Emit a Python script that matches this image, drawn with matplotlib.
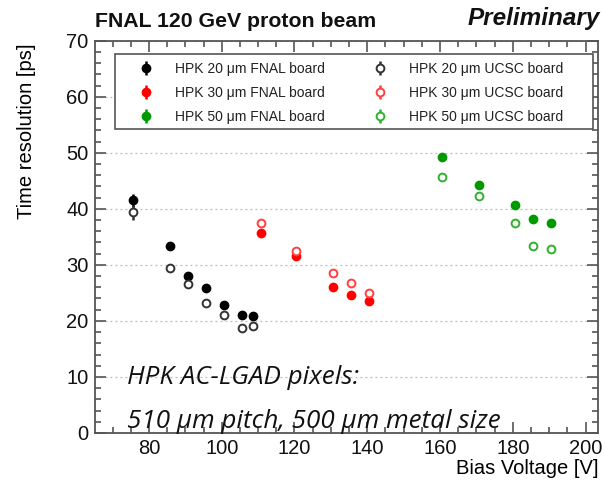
import numpy as np
import matplotlib
matplotlib.use("Agg")
import matplotlib.pyplot as plt
from matplotlib.patches import Rectangle
from matplotlib.ticker import MultipleLocator

plt.rcParams['font.family'] = ['Liberation Sans', 'DejaVu Sans']

# Bias voltage scans (V) and time resolution (ps) per sensor thickness
bias_20 = [75.6, 85.7, 90.7, 95.6, 100.5, 105.7, 108.7]
fnal_20 = [41.5, 33.3, 28.1, 25.9, 22.9, 21.0, 20.9]
fnal_20_err = [1.2, 0.5, 0.3, 0.3, 0.3, 0.3, 0.3]
ucsc_20 = [39.4, 29.5, 26.5, 23.2, 21.0, 18.8, 19.1]
ucsc_20_err = [1.35, 0.4, 0.3, 0.3, 0.3, 0.3, 0.3]

bias_30 = [110.7, 120.5, 130.6, 135.5, 140.5]
fnal_30 = [35.7, 31.6, 26.0, 24.6, 23.6]
fnal_30_err = [0.3, 0.3, 0.3, 0.3, 0.3]
ucsc_30 = [37.5, 32.5, 28.6, 26.7, 25.0]
ucsc_30_err = [0.3, 0.3, 0.3, 0.3, 0.3]

bias_50 = [160.5, 170.6, 180.6, 185.6, 190.5]
fnal_50 = [49.3, 44.2, 40.6, 38.2, 37.4]
fnal_50_err = [0.6, 0.4, 0.3, 0.3, 0.3]
ucsc_50 = [45.6, 42.3, 37.4, 33.3, 32.8]
ucsc_50_err = [0.3, 0.3, 0.3, 0.3, 0.3]

fig = plt.figure(figsize=(6.04, 4.82), dpi=100)
ax = fig.add_axes([0.158, 0.1017, 0.8326, 0.8139])

axis_col = '#555555'

def draw(x, y, yerr, col, filled, label):
    face = col if filled else 'white'
    return ax.errorbar(x, y, yerr=yerr, fmt='o', ms=5.6, mfc=face, mec=col,
                       mew=1.4, ecolor=col, elinewidth=1.8, capsize=0,
                       label=label, zorder=3)

h = []
h.append(draw(bias_20, fnal_20, fnal_20_err, 'black', True, 'HPK 20 μm FNAL board'))
h.append(draw(bias_30, fnal_30, fnal_30_err, '#ff0000', True, 'HPK 30 μm FNAL board'))
h.append(draw(bias_50, fnal_50, fnal_50_err, '#009a00', True, 'HPK 50 μm FNAL board'))
h.append(draw(bias_20, ucsc_20, ucsc_20_err, '#333333', False, 'HPK 20 μm UCSC board'))
h.append(draw(bias_30, ucsc_30, ucsc_30_err, '#ff4040', False, 'HPK 30 μm UCSC board'))
h.append(draw(bias_50, ucsc_50, ucsc_50_err, '#30b030', False, 'HPK 50 μm UCSC board'))

ax.set_xlim(65.3, 203.5)
ax.set_ylim(0, 70)
ax.xaxis.set_major_locator(MultipleLocator(20))
ax.xaxis.set_minor_locator(MultipleLocator(5))
ax.yaxis.set_major_locator(MultipleLocator(10))
ax.yaxis.set_minor_locator(MultipleLocator(2))
ax.tick_params(which='both', direction='in', top=True, right=True,
               color=axis_col, width=1.2, labelsize=14.5, labelcolor='#111111')
ax.tick_params(which='major', length=8, pad=5)
ax.tick_params(which='minor', length=4)
ax.tick_params(axis='x', pad=4)
for s in ax.spines.values():
    s.set_color(axis_col)
    s.set_linewidth(1.3)

ax.yaxis.grid(True, which='major', linestyle=(0, (1.5, 2.5)), color='#bbbbbb', lw=0.9)
ax.set_axisbelow(True)

ax.set_ylabel('Time resolution [ps]', fontsize=14.5, loc='top')
ax.yaxis.set_label_coords(-0.119, 0.994)
ax.set_xlabel('Bias Voltage [V]', fontsize=14.5, loc='right')
ax.xaxis.set_label_coords(1.0, -0.066)

# legend box, drawn separately so the columns can sit where they belong
ax.add_patch(Rectangle((0.038, 0.775), 0.951, 0.191, transform=ax.transAxes,
                       facecolor='white', edgecolor=axis_col, lw=1.2, zorder=4))
leg = ax.legend(handles=h, ncol=2, loc='upper left',
                bbox_to_anchor=(0.038, 0.966), fontsize=10, frameon=False,
                handlelength=3.4, handletextpad=0.39, columnspacing=2.3,
                labelspacing=0.74, borderpad=0.55, borderaxespad=0)
leg.set_zorder(5)
for t in leg.get_texts():
    t.set_color('#222222')

fig.text(95 / 604, 1 - 21.7 / 482, 'FNAL 120 GeV proton beam', fontsize=15.3,
         fontweight='bold', ha='left', va='center', color='#111111')
fig.text(600 / 604, 1 - 18 / 482, 'Preliminary', fontsize=17.5,
         fontweight='bold', style='italic', ha='right', va='center', color='#111111')

ax.text(0.062, 0.125, 'HPK AC-LGAD pixels:', transform=ax.transAxes,
        fontsize=18.7, style='italic', family=['Open Sans', 'DejaVu Sans'],
        ha='left', va='baseline', color='#111111')
ax.text(0.062, 0.0127, '510 μm pitch, 500 μm metal size', transform=ax.transAxes,
        fontsize=18.7, style='italic', family=['Open Sans', 'DejaVu Sans'],
        ha='left', va='baseline', color='#111111')

fig.savefig('out.png', dpi=100)
